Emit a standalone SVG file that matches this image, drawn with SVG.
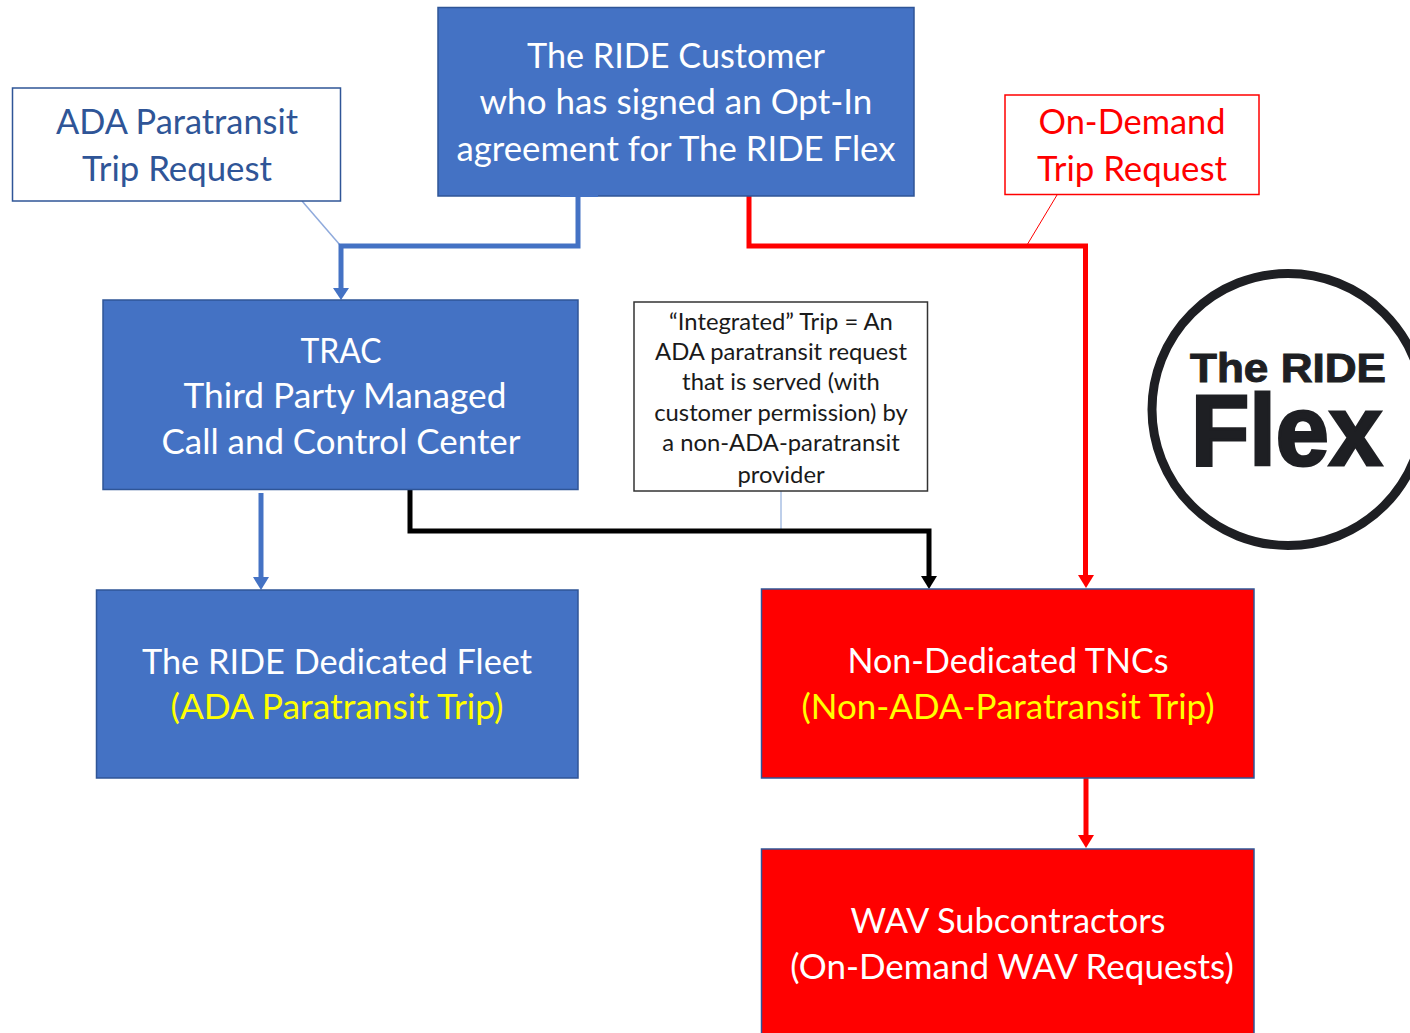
<svg xmlns="http://www.w3.org/2000/svg" width="1410" height="1033" viewBox="0 0 1410 1033">
<style>
text{font-family:Lato,"Open Sans",sans-serif;text-anchor:middle}
.b{fill:#4472c4;stroke:#2f5597;stroke-width:1.5}
.r{fill:#ff0000;stroke:#2f5597;stroke-width:1.5}
.t{font-size:35px;fill:#fff}
.y{font-size:35px;fill:#ffff00}
.n{font-size:23.800px;fill:#1a1a1a}
.c{fill:none;stroke-width:5}
.logo{font-family:"Liberation Sans",Arial,sans-serif;font-weight:700;fill:#1e1f23;stroke:#1e1f23}
</style>
<defs>
<marker id="ab" markerUnits="userSpaceOnUse" markerWidth="14" markerHeight="16" refX="12" refY="8" orient="auto"><path d="M0 0L12 8L0 16z" fill="#4472c4"/></marker>
<marker id="ar" markerUnits="userSpaceOnUse" markerWidth="14" markerHeight="16" refX="12" refY="8" orient="auto"><path d="M0 0L12 8L0 16z" fill="#ff0000"/></marker>
<marker id="ak" markerUnits="userSpaceOnUse" markerWidth="14" markerHeight="16" refX="12" refY="8" orient="auto"><path d="M0 0L12 8L0 16z" fill="#000"/></marker>
</defs>
<rect width="1410" height="1033" fill="#fff"/>
<g id="connectors">
<path d="M302 201L340 245" fill="none" stroke="#8faadc" stroke-width="1.5"/>
<path d="M1057 195L1027 245" fill="none" stroke="#ff0000" stroke-width="1"/>
<path d="M781 491V531" fill="none" stroke="#a9bfe3" stroke-width="1.5"/>
<path class="c" stroke="#4472c4" d="M578 196V246H341V293" />
<path d="M333 288H349L341 300z" fill="#4472c4"/>
<path class="c" stroke="#ff0000" d="M749 196V246H1085.500V578"/>
<path d="M1078 575H1094L1086 588z" fill="#ff0000"/>
<path class="c" stroke="#4472c4" d="M261 493V580"/>
<path d="M253 577H269L261 590z" fill="#4472c4"/>
<path class="c" stroke="#000" d="M410 489V531H929V580"/>
<path d="M921 576H937L929 589z" fill="#000"/>
<path class="c" stroke="#ff0000" d="M1086 778V838"/>
<path d="M1078 835H1094L1086 848z" fill="#ff0000"/>
</g>
<g id="customer"><rect class="b" x="438" y="7.500" width="476" height="188.500"/><rect x="560" y="195" width="38" height="2" fill="#4472c4"/>
<text class="t" x="676" y="68" textLength="298" lengthAdjust="spacingAndGlyphs">The RIDE Customer</text><text class="t" x="676" y="114">who has signed an Opt-In</text><text class="t" x="676" y="161" textLength="439" lengthAdjust="spacingAndGlyphs">agreement for The RIDE Flex</text></g>
<g id="ada-request"><rect x="12.500" y="88" width="328" height="113" fill="#fff" stroke="#2f5597" stroke-width="1.500"/>
<text class="t" style="fill:#2f5597" x="177" y="134" textLength="242" lengthAdjust="spacingAndGlyphs">ADA Paratransit</text><text class="t" style="fill:#2f5597" x="177" y="181" textLength="190" lengthAdjust="spacingAndGlyphs">Trip Request</text></g>
<g id="ondemand-request"><rect x="1005" y="95" width="254" height="99.500" fill="#fff" stroke="#ff0000" stroke-width="1.500"/>
<text class="t" style="fill:#ff0000" x="1132" y="134" textLength="187" lengthAdjust="spacingAndGlyphs">On-Demand</text><text class="t" style="fill:#ff0000" x="1132" y="181" textLength="190" lengthAdjust="spacingAndGlyphs">Trip Request</text></g>
<g id="trac"><rect class="b" x="103" y="300" width="475" height="189.500"/>
<text class="t" x="341" y="363" textLength="81" lengthAdjust="spacingAndGlyphs">TRAC</text><text class="t" x="345" y="408" textLength="323" lengthAdjust="spacingAndGlyphs">Third Party Managed</text><text class="t" x="341" y="454" textLength="359" lengthAdjust="spacingAndGlyphs">Call and Control Center</text></g>
<g id="integrated-note"><rect x="634" y="302" width="293.500" height="189" fill="#fff" stroke="#333" stroke-width="1.500"/>
<text class="n" x="781" y="330">“Integrated” Trip = An</text><text class="n" x="781" y="360">ADA paratransit request</text><text class="n" x="781" y="390">that is served (with</text><text class="n" x="781" y="421">customer permission) by</text><text class="n" x="781" y="451">a non-ADA-paratransit</text><text class="n" x="781" y="483">provider</text></g>
<g id="dedicated-fleet"><rect class="b" x="96.500" y="590" width="481.500" height="188"/>
<text class="t" x="337" y="674" textLength="390" lengthAdjust="spacingAndGlyphs">The RIDE Dedicated Fleet</text><text class="y" x="337" y="719" textLength="333" lengthAdjust="spacingAndGlyphs">(ADA Paratransit Trip)</text></g>
<g id="tncs"><rect class="r" x="761.500" y="589" width="492.500" height="189"/>
<text class="t" x="1008" y="673" textLength="321" lengthAdjust="spacingAndGlyphs">Non-Dedicated TNCs</text><text class="y" x="1008" y="719" textLength="413" lengthAdjust="spacingAndGlyphs">(Non-ADA-Paratransit Trip)</text></g>
<g id="wav"><rect class="r" x="761.500" y="849" width="492.500" height="190"/>
<text class="t" x="1008" y="933" textLength="315" lengthAdjust="spacingAndGlyphs">WAV Subcontractors</text><text class="t" x="1012" y="979">(On-Demand WAV Requests)</text></g>
<g id="logo"><circle cx="1288" cy="409.500" r="136" fill="#fff" stroke="#1e1f23" stroke-width="9"/>
<text class="logo" stroke-width="1" x="1288" y="382" font-size="41" textLength="196" lengthAdjust="spacingAndGlyphs">The RIDE</text>
<text class="logo" stroke-width="3" x="1286.500" y="465" font-size="100" textLength="191" lengthAdjust="spacingAndGlyphs">Flex</text></g>
</svg>
